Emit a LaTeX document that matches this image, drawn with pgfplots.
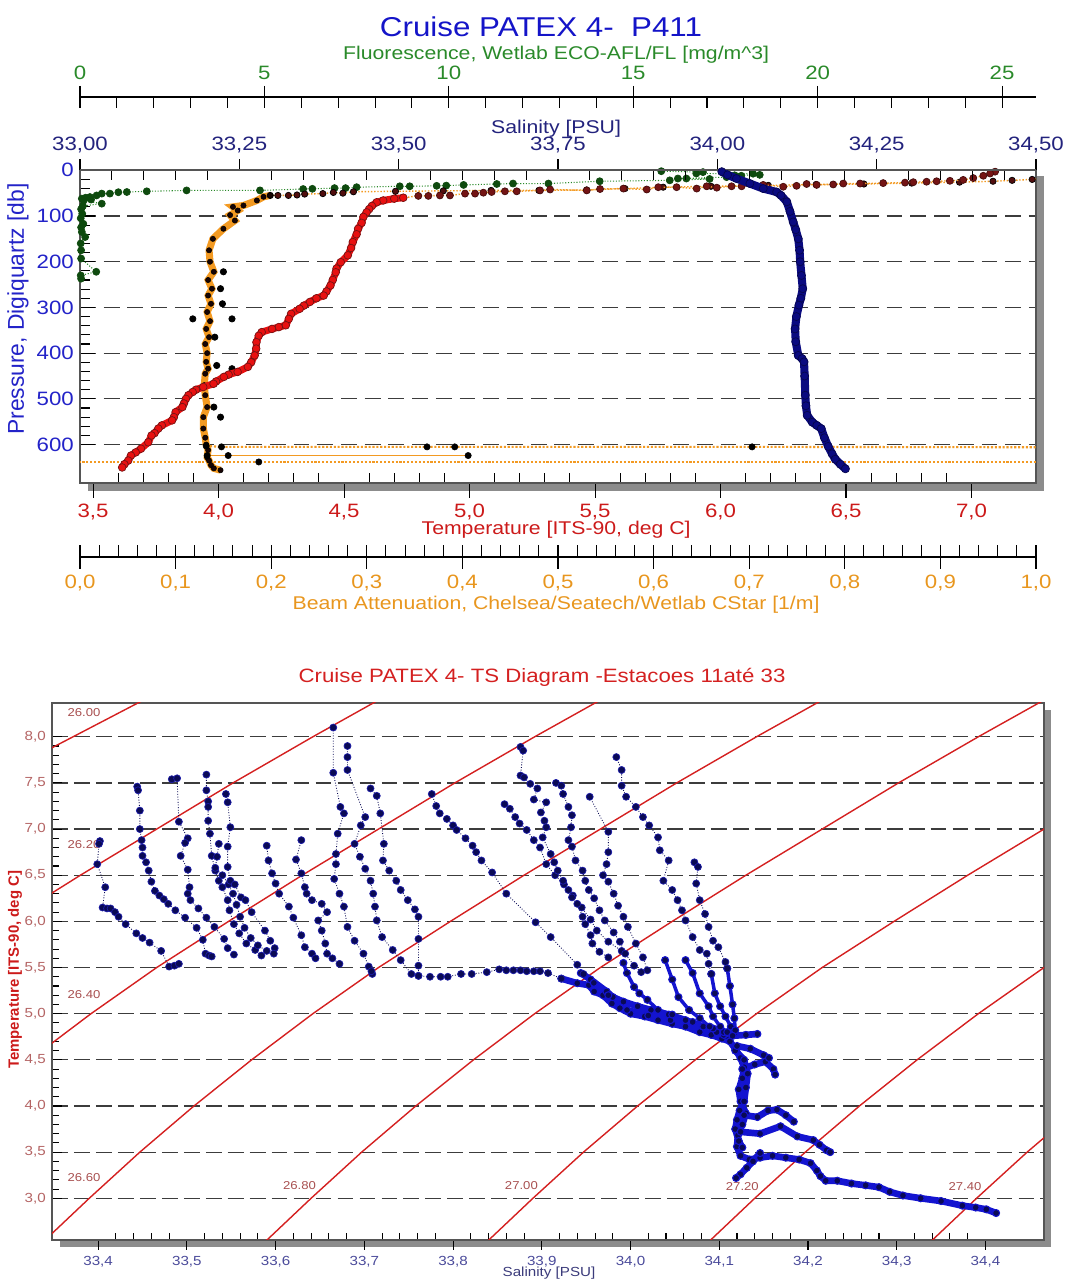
\documentclass[border=0pt]{standalone}
\usepackage{fontspec}
\setmainfont{Liberation Sans}[FakeStretch=1.15]
\newfontfamily\upsans{Liberation Sans}
\usepackage{pgfplots}
\pgfplotsset{compat=1.18}

\definecolor{titleblue}{HTML}{1414C8}
\definecolor{fluogreen}{HTML}{2A8A2A}
\definecolor{fluodot}{HTML}{0E4A0E}
\definecolor{salnavy}{HTML}{23237D}
\definecolor{salline}{HTML}{0A0A80}
\definecolor{presblue}{HTML}{2323C8}
\definecolor{tempred}{HTML}{CC1A1A}
\definecolor{redline}{HTML}{E81010}
\definecolor{darkred}{HTML}{741414}
\definecolor{beamorange}{HTML}{E8961E}
\definecolor{beamline}{HTML}{F39A22}
\definecolor{shadowgray}{HTML}{8C8C8C}
\definecolor{gridgray}{HTML}{3C3C3C}
\definecolor{boxgray}{HTML}{555555}
\definecolor{tsred}{HTML}{D42020}
\definecolor{tslabel}{HTML}{A85050}
\definecolor{tsnavy}{HTML}{0A0A55}
\definecolor{tsedge}{HTML}{1C1CA8}
\definecolor{tsblue}{HTML}{1414D0}
\definecolor{tsxtick}{HTML}{4A4A9A}
\definecolor{tsytick}{HTML}{B46464}

\pgfplotsset{
  /pgf/number format/assume math mode=true,
  topbox/.style={scale only axis, width=19.12cm, height=6.254cm,
    at={(1.6cm,15.98cm)}, anchor=south west, ymin=0, ymax=684, y dir=reverse},
  prof/.style={densely dotted, tsnavy, line width=0.5pt, mark=*, mark size=2pt,
    mark options={solid, fill=tsnavy, draw=tsedge, line width=0.4pt}},
  dense/.style={solid, tsblue, line width=3.8pt, mark=*, mark size=2pt,
    mark options={solid, fill=tsnavy, draw=tsblue, line width=0.6pt}},
  semidense/.style={solid, tsblue, line width=2pt, mark=*, mark size=2pt,
    mark options={solid, fill=tsnavy, draw=tsblue, line width=0.6pt}},
  iso/.style={tsred, line width=0.8pt, no marks},
}

\begin{document}
\begin{tikzpicture}
\useasboundingbox (0,0) rectangle (21.28,25.64);

% box shadows
\fill[shadowgray] (1.76,15.82) rectangle (20.88,15.98);
\fill[shadowgray] (20.72,15.82) rectangle (20.88,22.12);
\fill[shadowgray] (1.20,0.70) rectangle (21.02,0.84);
\fill[shadowgray] (20.88,0.70) rectangle (21.02,11.44);

\node[font=\fontsize{15.5}{15.5}\selectfont, text=titleblue] at (10.82,25.10) {Cruise PATEX 4-\ \ P411};

% ---------- fluorescence scale ----------
\begin{axis}[scale only axis, width=19.12cm, height=1cm, at={(1.6cm,23.70cm)}, anchor=north west,
  xmin=0, xmax=25.92, ymin=0, ymax=1,
  axis x line=top, axis y line=none, axis line style={-, black, line width=0.6pt},
  xtick={0,5,10,15,20,25}, minor x tick num=4,
  xtick align=center, major tick length=0.44cm, minor tick length=0.22cm,
  minor x tick style={yshift=-0.11cm},
  tick style={black, line width=0.6pt},
  xticklabel style={font=\fontsize{11}{11}\selectfont, text=fluogreen},
  xlabel={Fluorescence, Wetlab ECO-AFL/FL [mg/m\textasciicircum 3]},
  xlabel style={at={(axis description cs:0.498,1.84)}, anchor=center,
    font=\fontsize{10.5}{10.5}\selectfont, text=fluogreen},
]
\end{axis}

% ---------- beam attenuation scale ----------
\begin{axis}[scale only axis, width=19.12cm, height=1cm, at={(1.6cm,14.50cm)}, anchor=south west,
  xmin=0, xmax=1, ymin=0, ymax=1,
  axis x line=bottom, axis y line=none, axis line style={-, black, line width=0.6pt},
  xtick={0,0.1,0.2,0.3,0.4,0.5,0.6,0.7,0.8,0.9,1},
  xticklabels={0{,}0,0{,}1,0{,}2,0{,}3,0{,}4,0{,}5,0{,}6,0{,}7,0{,}8,0{,}9,1{,}0},
  minor x tick num=4,
  xtick align=center, major tick length=0.48cm, minor tick length=0.24cm,
  minor x tick style={yshift=0.12cm},
  tick style={black, line width=0.6pt},
  xticklabel style={font=\fontsize{11}{11}\selectfont, text=beamorange},
  xlabel={Beam Attenuation, Chelsea/Seatech/Wetlab CStar [1/m]},
  xlabel style={at={(axis description cs:0.498,-0.96)}, anchor=center,
    font=\fontsize{10.5}{10.5}\selectfont, text=beamorange},
]
\end{axis}

% ---------- profile frame, temperature and pressure axes ----------
\begin{axis}[topbox,
  xmin=3.448, xmax=7.257,
  axis line style={boxgray, line width=0.9pt},
  xtick pos=bottom, ytick pos=left,
  xtick={3.5,4,4.5,5,5.5,6,6.5,7},
  xticklabels={3{,}5,4{,}0,4{,}5,5{,}0,5{,}5,6{,}0,6{,}5,7{,}0},
  minor x tick num=4,
  ytick={0,100,200,300,400,500,600}, minor y tick num=4,
  xtick align=outside, ytick align=inside,
  major tick length=0.3cm, minor tick length=0.2cm,
  minor x tick style={yshift=0.2cm},
  tick style={black, line width=0.6pt},
  ymajorgrids, grid style={gridgray, dash pattern=on 9pt off 4.5pt, line width=0.7pt},
  xticklabel style={font=\fontsize{11}{11}\selectfont, text=tempred},
  yticklabel style={font=\fontsize{11}{11}\selectfont, text=presblue},
  xlabel={Temperature [ITS-90, deg C]},
  xlabel style={at={(axis description cs:0.498,-0.150)}, anchor=center,
    font=\fontsize{10.5}{10.5}\selectfont, text=tempred},
  ylabel={Pressure, Digiquartz [db]},
  ylabel style={at={(axis description cs:-0.065,0.556)}, anchor=center,
    font=\upsans\fontsize{13}{13}\selectfont, text=presblue},
]
\end{axis}

% fluorescence data
\begin{axis}[topbox, xmin=0, xmax=25.92, hide axis]
\addplot[densely dotted, fluogreen, line width=0.6pt, mark=*, mark size=2pt,
  mark options={solid, fill=fluodot, draw=fluodot, line width=0.4pt}] coordinates {
(15.76,2) (16.89,4) (16.71,7) (18.25,7.5) (18.43,10) (17.75,11) (17.93,12) (17.53,15)
(16.21,18) (16.44,18) (17.07,19) (15.99,22) (14.09,24) (12.7,29) (11.74,29) (11.3,30)
(10.4,32) (9.93,33.5) (9.67,34) (8.94,35) (8.67,35) (7.5,37) (7.2,39) (6.9,39) (6.3,40.5)
(6.05,41) (4.88,44) (2.89,44) (1.81,46) (1.27,47.5) (1.04,48) (0.81,51) (0.59,51)
(0.45,55) (0.27,58.5) (0.15,60) (0.05,62) (0.3,64) (0.1,66) (0.59,73) (0.08,78)
(0.03,85) (0.06,95) (0.02,105) (0.09,117) (0.03,125) (0.05,135) (0.14,146) (0.02,160)
(0.03,175) (0.03,193) (0.44,222) (0.02,230) (0.03,237)
};
\end{axis}

% beam attenuation data
\begin{axis}[topbox, xmin=0, xmax=1, hide axis]
\addplot[densely dotted, beamline, line width=0.8pt, mark=*, mark size=1.8pt,
  mark options={solid, fill=darkred!70!black, draw=black, line width=0.4pt}] coordinates {
(1.05,14) (1.02,16) (0.996,20) (0.975,22) (0.955,24) (0.92,26) (0.87,28) (0.82,30)
(0.77,31) (0.72,33) (0.66,35) (0.61,37) (0.57,40) (0.53,43) (0.48,44) (0.43,44)
(0.38,45) (0.33,46) (0.286,47) (0.275,50) (0.265,48.5) (0.254,51) (0.235,52) (0.227,54)
(0.218,55) (0.207,55) (0.199,55)
};
\addplot[solid, beamline, line width=4pt, mark=*, mark size=1.5pt,
  mark options={fill=black!80!darkred, draw=black, line width=0.3pt}] coordinates {
(0.199,55) (0.192,58) (0.185,66) (0.171,77) (0.160,80) (0.165,88) (0.157,98) (0.162,110)
(0.150,128) (0.139,150) (0.135,175) (0.136,200) (0.140,222) (0.134,240) (0.138,259)
(0.134,274) (0.137,292) (0.133,310) (0.136,330) (0.132,347) (0.135,365)
(0.131,380) (0.133,400) (0.132,419) (0.134,434) (0.131,445) (0.130,470)
(0.131,492) (0.133,518) (0.129,540) (0.129,565) (0.131,585) (0.132,600) (0.134,612)
(0.133,628) (0.135,635) (0.137,645) (0.140,652) (0.147,656)
};
\addplot[only marks, mark=*, mark size=1.8pt,
  mark options={fill=black, draw=black}] coordinates {
(0.150,222) (0.147,259) (0.149,292) (0.159,325) (0.118,325) (0.141,365) (0.143,427)
(0.159,434) (0.140,518) (0.147,540)
};
\addplot[densely dotted, beamline, line width=1.2pt, mark=*, mark size=1.8pt,
  mark options={solid, fill=black, draw=black, line width=0.3pt}] coordinates {
(0.132,603) (0.148,605) (0.363,605) (0.392,605) (0.703,605) (1.05,606)
};
\addplot[solid, beamline, line width=0.8pt, mark=*, mark size=1.8pt,
  mark options={solid, fill=black, draw=black, line width=0.3pt}] coordinates {
(0.133,624) (0.155,624) (0.406,624)
};
\addplot[densely dotted, beamline, line width=1.2pt, mark=*, mark size=1.8pt,
  mark options={solid, fill=black, draw=black, line width=0.3pt}] coordinates {
(-0.05,638) (0.187,638) (1.05,638)
};
\end{axis}

% temperature data
\begin{axis}[topbox, xmin=3.448, xmax=7.257, hide axis]
\addplot[densely dotted, beamline, line width=0.8pt, mark=*, mark size=2pt,
  mark options={solid, fill=darkred, draw=darkred!60!black, line width=0.4pt}] coordinates {
(7.094,3) (7.074,7) (7.047,12) (7.007,17) (6.967,21) (6.914,23) (6.861,24) (6.821,25)
(6.768,26) (6.735,27) (6.648,28) (6.556,29) (6.489,29) (6.449,31) (6.383,32) (6.343,30)
(6.303,34) (6.25,36) (6.17,32) (6.084,35) (6.044,35) (5.985,38) (5.945,35) (5.905,40)
(5.825,37) (5.752,37) (5.706,42) (5.613,40) (5.52,41) (5.467,44) (5.321,42) (5.281,44)
(5.188,46) (5.141,46) (5.088,47.5) (5.055,49) (5.022,51) (4.982,51) (4.922,55) (4.882,55)
(4.836,56) (4.796,56) (4.736,60)
};
\addplot[solid, redline, line width=4pt, mark=*, mark size=2.2pt,
  mark options={fill=redline, draw=darkred, line width=0.4pt}] coordinates {
(4.736,60) (4.700,62) (4.656,66) (4.630,70) (4.611,78) (4.600,85) (4.590,92) (4.577,102)
(4.570,115) (4.556,128) (4.550,140) (4.535,157) (4.528,170) (4.515,186) (4.487,201)
(4.470,215) (4.467,223) (4.455,240) (4.446,252) (4.430,265) (4.419,274) (4.390,280)
(4.364,288) (4.340,296) (4.323,303) (4.289,314) (4.280,325) (4.268,339) (4.240,343)
(4.213,347) (4.172,354) (4.160,362) (4.151,376) (4.150,390) (4.144,405) (4.130,420)
(4.117,430) (4.076,441) (4.040,447) (4.021,452) (3.990,462) (3.980,467) (3.939,474)
(3.910,480) (3.897,485) (3.880,492) (3.870,500) (3.862,510) (3.856,518) (3.829,529)
(3.822,540) (3.815,547) (3.774,558) (3.760,565) (3.745,575) (3.733,580) (3.720,595)
(3.691,609) (3.670,617) (3.651,624) (3.640,635) (3.625,643) (3.616,650)
};
\end{axis}

% salinity data and top scale
\begin{axis}[topbox, xmin=33, xmax=34.5,
  axis x line*=top, axis y line=none,
  axis line style={boxgray, line width=0.9pt},
  xtick={33,33.25,33.5,33.75,34,34.25,34.5},
  xticklabels={33{,}00,33{,}25,33{,}50,33{,}75,34{,}00,34{,}25,34{,}50},
  minor x tick num=4,
  xtick align=outside, major tick length=0.22cm, minor tick length=0.2cm,
  minor x tick style={yshift=-0.2cm},
  tick style={black, line width=0.6pt},
  xticklabel style={font=\fontsize{11}{11}\selectfont, text=salnavy},
  xlabel={Salinity [PSU]},
  xlabel style={at={(axis description cs:0.498,1.132)}, anchor=center,
    font=\fontsize{10.5}{10.5}\selectfont, text=salnavy},
]
\addplot[solid, salline, line width=4.6pt, mark=*, mark size=2.3pt,
  mark options={fill=salline, draw=salline!60!black, line width=0.4pt}] coordinates {
(34.007,3) (34.016,10) (34.030,18) (34.051,29) (34.072,40) (34.093,47.5) (34.100,55)
(34.109,69) (34.114,90) (34.119,113) (34.123,130) (34.127,150) (34.129,175) (34.130,200)
(34.132,230) (34.134,259) (34.131,280) (34.128,295) (34.124,320) (34.122,347)
(34.123,375) (34.127,405) (34.133,412) (34.136,419) (34.137,450) (34.138,492)
(34.139,515) (34.141,536) (34.149,551) (34.156,558) (34.163,565) (34.168,585)
(34.174,604) (34.180,620) (34.185,632) (34.193,643) (34.201,653)
};
\end{axis}

% ---------- TS diagram ----------
\begin{axis}[scale only axis, width=19.84cm, height=10.74cm, at={(1.04cm,0.84cm)}, anchor=south west,
  xmin=33.348, xmax=34.466, ymin=2.548, ymax=8.366,
  axis line style={boxgray, line width=0.9pt},
  xtick pos=bottom, ytick pos=left,
  xtick={33.4,33.5,33.6,33.7,33.8,33.9,34.0,34.1,34.2,34.3,34.4},
  xticklabels={33{,}4,33{,}5,33{,}6,33{,}7,33{,}8,33{,}9,34{,}0,34{,}1,34{,}2,34{,}3,34{,}4},
  ytick={3,3.5,4,4.5,5,5.5,6,6.5,7,7.5,8},
  yticklabels={3{,}0,3{,}5,4{,}0,4{,}5,5{,}0,5{,}5,6{,}0,6{,}5,7{,}0,7{,}5,8{,}0},
  minor x tick num=4, minor y tick num=4,
  xtick align=outside, ytick align=inside,
  major tick length=0.2cm, minor tick length=0.14cm,
  minor x tick style={yshift=0.14cm},
  tick style={black, line width=0.6pt},
  ymajorgrids, grid style={gridgray, dash pattern=on 9pt off 3.5pt, line width=0.7pt},
  xticklabel style={font=\fontsize{7.5}{7.5}\selectfont, text=tsxtick},
  yticklabel style={font=\fontsize{7.5}{7.5}\selectfont, text=tsytick},
  title={Cruise PATEX 4- TS Diagram -Estacoes 11até 33},
  title style={at={(axis description cs:0.494,1.028)}, anchor=center,
    font=\fontsize{11}{11}\selectfont, text=tsred},
  xlabel={Salinity [PSU]},
  xlabel style={at={(axis description cs:0.501,-0.0615)}, anchor=center,
    font=\fontsize{7.5}{7.5}\selectfont, text=tsxtick!80!black},
  ylabel={Temperature [ITS-90, deg C]},
  ylabel style={at={(axis description cs:-0.0373,0.503)}, anchor=center,
    font=\upsans\bfseries\fontsize{8.5}{8.5}\selectfont, text=tempred},
]
% isopycnals
\addplot[iso] coordinates {(33.13,6.7) (33.216,7.2) (33.302,7.65) (33.348,7.881) (33.4446,8.365) (33.50,8.64)};
\addplot[iso] coordinates {(33.216,5.5) (33.297,6.0) (33.380,6.5) (33.466,7.0) (33.552,7.5) (33.642,8.0) (33.735,8.5) (33.830,9.0)};
\addplot[iso] coordinates {(33.197,3.5) (33.258,4.0) (33.323,4.5) (33.392,5.0) (33.466,5.5) (33.547,6.0) (33.630,6.5) (33.716,7.0) (33.802,7.5) (33.892,8.0) (33.985,8.5) (34.080,9.0)};
\addplot[iso] coordinates {(33.283,2.0) (33.335,2.5) (33.390,3.0) (33.447,3.5) (33.508,4.0) (33.573,4.5) (33.642,5.0) (33.716,5.5) (33.797,6.0) (33.880,6.5) (33.966,7.0) (34.052,7.5) (34.142,8.0) (34.235,8.5) (34.330,9.0)};
\addplot[iso] coordinates {(33.533,2.0) (33.585,2.5) (33.640,3.0) (33.697,3.5) (33.758,4.0) (33.823,4.5) (33.892,5.0) (33.966,5.5) (34.047,6.0) (34.130,6.5) (34.216,7.0) (34.302,7.5) (34.392,8.0) (34.485,8.5)};
\addplot[iso] coordinates {(33.783,2.0) (33.835,2.5) (33.890,3.0) (33.947,3.5) (34.008,4.0) (34.073,4.5) (34.142,5.0) (34.216,5.5) (34.297,6.0) (34.380,6.5) (34.466,7.0) (34.552,7.5)};
\addplot[iso] coordinates {(34.033,2.0) (34.085,2.5) (34.140,3.0) (34.197,3.5) (34.258,4.0) (34.323,4.5) (34.392,5.0) (34.466,5.5) (34.547,6.0)};
\addplot[iso] coordinates {(34.283,2.0) (34.335,2.5) (34.390,3.0) (34.447,3.5) (34.508,4.0)};

\node[font=\fontsize{6.5}{6.5}\selectfont, text=tslabel] at (axis cs:33.384,8.26) {26.00};
\node[font=\fontsize{6.5}{6.5}\selectfont, text=tslabel] at (axis cs:33.384,6.83) {26.20};
\node[font=\fontsize{6.5}{6.5}\selectfont, text=tslabel] at (axis cs:33.384,5.21) {26.40};
\node[font=\fontsize{6.5}{6.5}\selectfont, text=tslabel] at (axis cs:33.384,3.22) {26.60};
\node[font=\fontsize{6.5}{6.5}\selectfont, text=tslabel] at (axis cs:33.627,3.14) {26.80};
\node[font=\fontsize{6.5}{6.5}\selectfont, text=tslabel] at (axis cs:33.877,3.14) {27.00};
\node[font=\fontsize{6.5}{6.5}\selectfont, text=tslabel] at (axis cs:34.126,3.13) {27.20};
\node[font=\fontsize{6.5}{6.5}\selectfont, text=tslabel] at (axis cs:34.377,3.13) {27.40};

% dense deep tracks
\addplot[dense] coordinates {
(33.922,5.38) (33.940,5.33) (33.953,5.31) (33.959,5.24) (33.969,5.20) (33.979,5.11)
(33.988,5.06) (34.000,5.00) (34.016,4.97) (34.031,4.93) (34.047,4.89) (34.062,4.86)
(34.078,4.80) (34.091,4.77) (34.103,4.73) (34.112,4.70) (34.118,4.62) (34.124,4.52)
(34.128,4.42) (34.126,4.30) (34.122,4.18) (34.124,4.05) (34.130,3.92) (34.126,3.80)
(34.121,3.68) (34.120,3.56) (34.124,3.46) (34.134,3.42) (34.146,3.44) (34.160,3.46)
(34.175,3.44) (34.190,3.42) (34.203,3.38) (34.210,3.30) (34.214,3.24) (34.220,3.19)
(34.233,3.19) (34.249,3.16) (34.265,3.14) (34.280,3.12) (34.292,3.07) (34.307,3.03)
(34.327,3.00) (34.350,2.97) (34.374,2.92) (34.389,2.90) (34.401,2.88) (34.412,2.84)
};
\addplot[dense] coordinates {
(33.944,5.44) (33.955,5.37) (33.973,5.24) (33.980,5.18) (33.992,5.13) (34.008,5.08)
(34.023,5.04) (34.043,4.99) (34.062,4.93) (34.082,4.86) (34.097,4.80) (34.108,4.76)
};
\addplot[dense] coordinates {
(33.9586,5.334) (33.975,5.20) (33.996,5.04) (34.020,4.98) (34.045,4.93) (34.082,4.86) (34.105,4.77)
};
\addplot[semidense] coordinates {
(33.992,5.55) (33.996,5.44) (34.004,5.29) (34.010,5.22) (34.019,5.15) (34.031,5.04)
(34.047,4.99) (34.070,4.91) (34.093,4.84) (34.109,4.79)
};
\addplot[semidense] coordinates {
(34.039,5.58) (34.047,5.37) (34.054,5.18) (34.066,5.04) (34.078,4.95) (34.089,4.86) (34.105,4.80)
};
\addplot[semidense] coordinates {
(34.062,5.58) (34.070,5.44) (34.078,5.22) (34.088,5.08) (34.093,4.97) (34.101,4.86) (34.109,4.80)
};
\addplot[semidense] coordinates {
(34.091,5.43) (34.095,5.22) (34.101,5.08) (34.107,4.97) (34.113,4.86) (34.117,4.79)
};
\addplot[semidense] coordinates {
(34.109,5.49) (34.112,5.30) (34.115,5.10) (34.117,4.95) (34.118,4.82)
};
\addplot[dense] coordinates {
(34.118,4.60) (34.128,4.50) (34.132,4.35) (34.130,4.20) (34.128,4.05) (34.123,3.95)
(34.120,3.85) (34.118,3.75) (34.122,3.62) (34.126,3.55)
};
\addplot[dense] coordinates {(34.146,3.49) (34.138,3.40) (34.131,3.33) (34.124,3.26) (34.119,3.22)};
\addplot[dense] coordinates {(34.124,3.72) (34.146,3.70) (34.169,3.78) (34.188,3.67) (34.206,3.63) (34.213,3.58) (34.221,3.52) (34.225,3.50)};
\addplot[dense] coordinates {(34.128,3.90) (34.143,3.88) (34.155,3.95) (34.165,3.96) (34.175,3.90) (34.184,3.83)};
\addplot[dense] coordinates {(34.126,4.40) (34.140,4.45) (34.152,4.48) (34.161,4.40) (34.163,4.34)};
\addplot[dense] coordinates {(34.120,4.65) (34.135,4.62) (34.150,4.55) (34.156,4.52)};
\addplot[dense] coordinates {(34.115,4.76) (34.130,4.77) (34.143,4.78)};

% station profiles
\addplot[prof] coordinates {
(33.402,6.87) (33.401,6.84) (33.399,6.62) (33.408,6.37) (33.405,6.15) (33.410,6.14)
(33.414,6.14) (33.419,6.10) (33.423,6.05) (33.431,5.97) (33.443,5.87) (33.450,5.82)
(33.458,5.77) (33.471,5.68) (33.480,5.51) (33.486,5.52) (33.491,5.54)
};
\addplot[prof] coordinates {
(33.444,7.46) (33.445,7.42) (33.447,7.20) (33.447,7.00) (33.449,6.88) (33.450,6.80)
(33.450,6.71) (33.454,6.64) (33.457,6.55) (33.460,6.43) (33.464,6.33) (33.469,6.28)
(33.474,6.24) (33.479,6.19) (33.487,6.12) (33.498,6.04) (33.511,5.93) (33.518,5.80)
(33.521,5.65) (33.525,5.63) (33.528,5.62)
};
\addplot[prof] coordinates {
(33.483,7.54) (33.489,7.55) (33.491,7.08) (33.501,6.90) (33.498,6.85) (33.493,6.71)
(33.501,6.56) (33.503,6.37) (33.501,6.30) (33.504,6.23) (33.513,6.14) (33.522,6.04)
(33.531,5.94) (33.542,5.81) (33.546,5.71) (33.553,5.64)
};
\addplot[prof] coordinates {
(33.522,7.59) (33.522,7.42) (33.524,7.30) (33.524,7.24) (33.524,7.09) (33.526,6.95)
(33.528,6.71) (33.532,6.55) (33.536,6.44) (33.540,6.37) (33.546,6.23) (33.548,6.12)
(33.553,5.97) (33.559,5.87) (33.567,5.76) (33.577,5.69) (33.584,5.63)
};
\addplot[prof] coordinates {
(33.536,6.84) (33.534,6.70) (33.532,6.58) (33.540,6.50) (33.547,6.40) (33.552,6.30)
(33.556,6.18) (33.560,6.05) (33.565,5.93) (33.572,5.82) (33.580,5.74) (33.590,5.68)
};
\addplot[prof] coordinates {
(33.544,7.38) (33.546,7.29) (33.549,7.02) (33.546,6.81) (33.546,6.59) (33.549,6.44)
(33.554,6.40) (33.561,6.26) (33.566,6.23) (33.573,6.10) (33.588,5.90) (33.594,5.79)
(33.599,5.71) (33.598,5.65)
};
\addplot[prof] coordinates {
(33.590,6.82) (33.592,6.66) (33.596,6.52) (33.600,6.41) (33.604,6.30) (33.615,6.16)
(33.620,6.04) (33.629,5.85) (33.633,5.72) (33.641,5.65) (33.645,5.60)
};
\addplot[prof] coordinates {
(33.629,6.88) (33.623,6.67) (33.629,6.52) (33.633,6.37) (33.635,6.30) (33.641,6.23)
(33.652,6.19) (33.658,6.10) (33.648,6.01) (33.652,5.90) (33.656,5.76) (33.658,5.65)
(33.664,5.60) (33.672,5.54)
};
\addplot[prof] coordinates {
(33.681,7.90) (33.681,7.78) (33.681,7.64) (33.701,7.13) (33.696,7.04) (33.689,6.84)
(33.695,6.70) (33.701,6.57) (33.707,6.44) (33.710,6.30) (33.712,6.16) (33.714,6.01)
(33.720,5.83) (33.732,5.69) (33.741,5.58) (33.753,5.43) (33.761,5.41)
};
\addplot[prof] coordinates {
(33.665,8.10) (33.665,7.61) (33.673,7.24) (33.677,7.17) (33.670,6.95) (33.668,6.73)
(33.668,6.62) (33.666,6.46) (33.672,6.30) (33.677,6.16) (33.681,5.94) (33.689,5.79)
(33.699,5.65) (33.705,5.51) (33.709,5.43) (33.708,5.46)
};
\addplot[prof] coordinates {
(33.707,7.44) (33.714,7.36) (33.718,7.17) (33.722,6.84) (33.721,6.66) (33.728,6.55)
(33.736,6.44) (33.741,6.34) (33.749,6.23) (33.757,6.13) (33.761,6.05) (33.761,5.81)
(33.761,5.52) (33.761,5.41) (33.774,5.40) (33.786,5.40) (33.794,5.40) (33.809,5.43)
(33.821,5.43) (33.838,5.45) (33.852,5.48) (33.860,5.47) (33.868,5.47) (33.876,5.47)
(33.883,5.46) (33.891,5.46) (33.898,5.46) (33.907,5.44) (33.922,5.38)
};
\addplot[prof] coordinates {
(33.776,7.38) (33.781,7.25) (33.785,7.17) (33.793,7.11) (33.800,7.04) (33.804,6.99)
(33.814,6.90) (33.822,6.82) (33.826,6.75) (33.832,6.66) (33.844,6.53) (33.860,6.30)
(33.893,5.99) (33.910,5.83) (33.940,5.53) (33.947,5.43)
};
\addplot[prof] coordinates {
(33.858,7.27) (33.864,7.22) (33.870,7.13) (33.875,7.06) (33.883,6.99) (33.891,6.88)
(33.898,6.80) (33.905,6.62) (33.915,6.50) (33.925,6.40) (33.935,6.28) (33.945,6.15)
(33.955,6.02) (33.962,5.90) (33.975,5.78) (33.990,5.68)
};
\addplot[prof] coordinates {
(33.876,7.89) (33.879,7.85) (33.876,7.58) (33.880,7.56) (33.887,7.49) (33.895,7.44)
(33.891,7.32) (33.905,7.29) (33.899,7.18) (33.903,7.09) (33.905,7.02) (33.901,6.91)
(33.910,6.73) (33.914,6.64) (33.918,6.55) (33.924,6.44) (33.930,6.34) (33.934,6.26)
(33.940,6.19) (33.946,6.05) (33.949,5.97) (33.955,5.85) (33.957,5.76) (33.965,5.67)
(33.975,5.61)
};
\addplot[prof] coordinates {
(33.916,7.50) (33.922,7.47) (33.924,7.38) (33.930,7.24) (33.934,7.15) (33.933,7.02)
(33.930,6.88) (33.934,6.81) (33.938,6.66) (33.946,6.55) (33.949,6.44) (33.953,6.34)
(33.959,6.25) (33.965,6.12) (33.971,6.01) (33.981,5.88) (33.988,5.78) (33.994,5.65)
(34.004,5.52) (34.012,5.45)
};
\addplot[prof] coordinates {
(33.954,7.35) (33.975,6.97) (33.975,6.75) (33.973,6.62) (33.969,6.50) (33.975,6.43)
(33.981,6.30) (33.986,6.17) (33.992,6.05) (33.997,5.94) (34.006,5.76) (34.014,5.61)
(34.019,5.47)
};
\addplot[prof] coordinates {
(33.984,7.78) (33.990,7.64) (33.990,7.47) (33.995,7.35) (34.006,7.24) (34.014,7.13)
(34.021,7.04) (34.031,6.91) (34.033,6.77) (34.043,6.66) (34.037,6.44) (34.047,6.34)
(34.053,6.23) (34.058,6.12) (34.062,6.01) (34.070,5.83) (34.078,5.69) (34.086,5.65)
(34.088,5.54) (34.091,5.43)
};
\addplot[prof] coordinates {
(34.072,6.64) (34.076,6.59) (34.074,6.41) (34.078,6.23) (34.084,6.08) (34.088,5.94)
(34.093,5.79) (34.099,5.72) (34.107,5.56) (34.109,5.49)
};
\end{axis}
\end{tikzpicture}
\end{document}
